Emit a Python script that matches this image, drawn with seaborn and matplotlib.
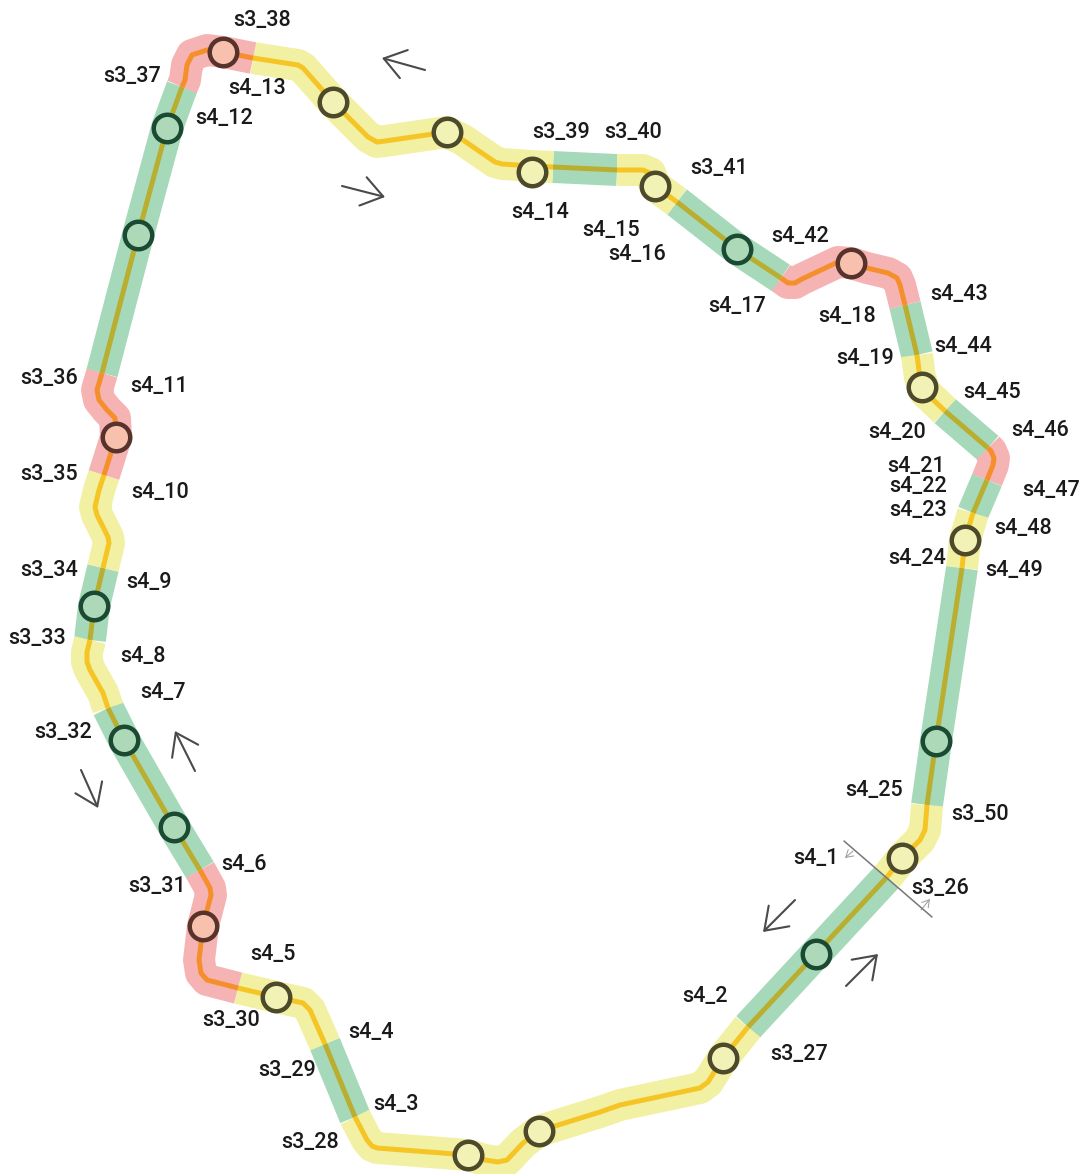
import pandas as pd
import matplotlib.pyplot as plt
import seaborn as sns

sns.set_theme(style="white")
plt.rcParams['font.family'] = ['Roboto', 'DejaVu Sans']

# route sections, clockwise from the s3_26 / s4_1 cut (image pixels)
seg_state = ["green", "yellow", "green", "yellow", "pink", "green", "yellow", "green", "yellow",
             "pink", "green", "pink", "yellow", "green", "yellow", "green", "pink", "green",
             "yellow", "green", "pink", "green", "yellow", "green", "yellow"]
seg_x = [
    [887, 748],
    [748, 723, 708, 700, 620, 600, 539, 523, 507, 498, 485, 468, 377, 372, 367, 355],
    [355, 325],
    [325, 310, 303, 276, 238],
    [238, 207, 201, 199, 203, 211, 210, 200],
    [200, 174, 124, 108],
    [108, 103, 90, 87, 87, 90],
    [90, 94, 103],
    [103, 109, 108, 97, 95, 99, 104],
    [104, 116, 115, 107, 99, 97, 102],
    [102, 138, 167, 182],
    [182, 185, 187, 192, 207, 223, 253],
    [253, 298, 303, 333, 368, 377, 385, 447, 463, 495, 502, 532, 553],
    [553, 617],
    [617, 643, 650, 655, 677],
    [677, 737, 781],
    [781, 788, 795, 802, 838, 851, 867, 888, 897, 900, 905],
    [905, 917],
    [917, 920, 925, 945],
    [945, 988],
    [988, 991, 994, 993, 987],
    [987, 973],
    [973, 965, 962],
    [962, 936, 927],
    [927, 925, 920, 902, 887],
]
seg_y = [
    [877, 1027],
    [1027, 1058, 1082, 1088, 1105, 1112, 1131, 1143, 1160, 1162, 1160, 1155, 1148, 1146, 1140, 1117],
    [1117, 1044],
    [1044, 1010, 1003, 997, 988],
    [988, 980, 973, 960, 926, 895, 888, 870],
    [870, 827, 740, 708],
    [708, 693, 670, 662, 652, 640],
    [640, 606, 568],
    [568, 543, 537, 515, 507, 490, 475],
    [475, 437, 418, 410, 400, 390, 373],
    [373, 235, 128, 87],
    [87, 80, 65, 55, 50, 52, 58],
    [58, 65, 68, 102, 137, 142, 141, 132, 140, 162, 164, 166, 167],
    [167, 170],
    [170, 170, 173, 186, 202],
    [202, 249, 278],
    [278, 283, 283, 279, 262, 263, 268, 273, 278, 285, 305],
    [305, 355],
    [355, 378, 392, 411],
    [411, 448],
    [448, 451, 458, 465, 480],
    [480, 513],
    [513, 540, 568],
    [568, 741, 805],
    [805, 830, 840, 858, 877],
]

station_x = [333, 447, 532, 655, 922, 965, 902, 723, 539, 468, 276,
             167, 138, 94, 124, 174, 737, 936, 816,
             223, 116, 203, 851]
station_y = [102, 132, 172, 186, 387, 540, 858, 1058, 1131, 1155, 997,
             128, 235, 606, 740, 827, 249, 741, 954,
             52, 437, 926, 263]
station_state = ["yellow"] * 11 + ["green"] * 8 + ["pink"] * 4

label_text = ["s3_38", "s3_37", "s4_13", "s4_12", "s3_39", "s3_40", "s3_41", "s4_14", "s4_15", "s4_16",
              "s4_17", "s4_42", "s4_18", "s4_43", "s4_19", "s4_44", "s4_45", "s4_20", "s4_46", "s4_21",
              "s4_22", "s4_23", "s4_47", "s4_48", "s4_24", "s4_49", "s3_36", "s4_11", "s3_35", "s4_10",
              "s3_34", "s4_9", "s3_33", "s4_8", "s4_7", "s3_32", "s4_6", "s3_31", "s4_5", "s3_30",
              "s4_4", "s3_29", "s4_3", "s3_28", "s4_2", "s3_27", "s4_25", "s3_50", "s4_1", "s3_26"]
label_x = [262, 132, 257, 224, 561, 633, 719, 540, 611, 637,
           737, 800, 847, 959, 865, 963, 992, 897, 1040, 916,
           918, 918, 1051, 1023, 917, 1014, 49, 159, 49, 160,
           49, 149, 37, 143, 163, 63, 244, 157, 273, 231,
           371, 287, 396, 310, 705, 799, 874, 980, 816, 940]
label_y = [20, 77, 89, 118, 132, 132, 169, 212, 231, 255,
           307, 236, 316, 294, 359, 347, 393, 433, 430, 466,
           487, 511, 491, 528, 558, 570, 378, 387, 474, 492,
           570, 582, 638, 656, 693, 732, 864, 886, 955, 1020,
           1033, 1070, 1104, 1143, 996, 1054, 791, 815, 858, 888]

# direction arrows: tail x, tail y, tip x, tip y
big_arrows = [(425, 70, 382, 58), (342, 186, 385, 197), (195, 771, 175, 731),
              (81, 770, 98, 808), (795, 900, 763, 932), (846, 986, 878, 954)]
small_arrows = [(853, 851, 845, 858), (921, 910, 930, 899)]
cut_x = [844, 932]
cut_y = [841, 917]

band_colors = {"green": "#a6d9ba", "yellow": "#f2f0a3", "pink": "#f5b3b3"}
core_colors = {"green": "#baae30", "yellow": "#f5c525", "pink": "#f58f2c"}
fill_colors = {"green": "#aed9b8", "yellow": "#f3f2b6", "pink": "#f8c1ae"}
edge_colors = {"green": "#1b4a33", "yellow": "#4d4a2b", "pink": "#57332c"}

rows = []
for i, state in enumerate(seg_state):
    for x, y in zip(seg_x[i], seg_y[i]):
        rows.append({"x": x, "y": y, "seg": i, "state": state})
df = pd.DataFrame(rows)
stations = pd.DataFrame({"x": station_x, "y": station_y, "state": station_state})

fig = plt.figure(figsize=(10.84, 11.74), dpi=100)
ax = fig.add_axes([0, 0, 1, 1])

# wide status band, then the thin centre line
sns.lineplot(data=df, x="x", y="y", hue="state", units="seg", estimator=None, sort=False,
             palette=band_colors, linewidth=23, legend=False, ax=ax,
             solid_capstyle="butt", solid_joinstyle="round")
sns.lineplot(data=df, x="x", y="y", hue="state", units="seg", estimator=None, sort=False,
             palette=core_colors, linewidth=3.6, legend=False, ax=ax,
             solid_capstyle="butt", solid_joinstyle="round")

for state in ["yellow", "green", "pink"]:
    sub = stations[stations["state"] == state]
    sns.scatterplot(data=sub, x="x", y="y", s=392, color=fill_colors[state],
                    edgecolor=edge_colors[state], linewidth=3.2, legend=False, ax=ax, zorder=5)

ax.plot(cut_x, cut_y, color="#777777", lw=1.1, zorder=4)

for x0, y0, x1, y1 in big_arrows:
    ax.annotate("", xy=(x1, y1), xytext=(x0, y0),
                arrowprops=dict(arrowstyle="->,head_length=15,head_width=10.5", mutation_scale=1,
                                color="#4a4a4a", lw=1.5, shrinkA=0, shrinkB=0))
for x0, y0, x1, y1 in small_arrows:
    ax.annotate("", xy=(x1, y1), xytext=(x0, y0),
                arrowprops=dict(arrowstyle="->,head_length=5,head_width=3", mutation_scale=1,
                                color="#999999", lw=0.7, shrinkA=0, shrinkB=0))

for t, x, y in zip(label_text, label_x, label_y):
    ax.text(x, y, t, ha="center", va="center", fontsize=15.5, fontweight="medium",
            color="#1a1a1a", zorder=6)

ax.set_xlim(0, 1084)
ax.set_ylim(1174, 0)
ax.set_axis_off()

fig.savefig("out.png", dpi=100, facecolor="white")
